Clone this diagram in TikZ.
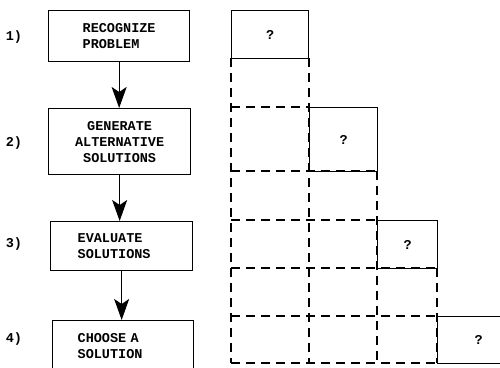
\documentclass[tikz,border=0pt]{standalone}
\usepackage{fontspec}
\setmainfont{Liberation Mono}
\usepackage{tikz}
\usetikzlibrary{positioning}
\usetikzlibrary{arrows.meta}

\tikzset{
  stepbox/.style={draw,line width=1.3pt,anchor=north west,align=left,inner ysep=0pt},
  askbox/.style={draw,line width=1.3pt,anchor=north west,inner sep=0pt},
  cell/.style={line width=1.1pt,dash pattern=on 9pt off 6pt},
  flow/.style={line width=1.3pt,-{Stealth[length=21pt,width=15pt,inset=5pt]}},
  numlabel/.style={inner sep=0pt}
}

\begin{document}
\begin{tikzpicture}[x=1pt,y=-1pt,font=\fontsize{13.5}{16}\selectfont\bfseries]
\useasboundingbox (0,0) rectangle (500,367);
\clip (0,0) rectangle (500,367);

% the four steps
\node[stepbox,inner xsep=34pt,text width=73pt,minimum height=51pt]               (recog)  at (48,10)  {RECOGNIZE\\PROBLEM};
\node[stepbox,inner xsep=18pt,text width=106pt,align=center,minimum height=66pt] (gener)  at (48,108) {GENERATE\\ALTERNATIVE\\SOLUTIONS};
\node[stepbox,inner xsep=27pt,text width=88pt,minimum height=49pt]               (evalu)  at (50,221) {EVALUATE\\SOLUTIONS};
\node[stepbox,inner xsep=25pt,text width=91pt,minimum height=50pt]               (choose) at (52,320) {CHOOSE A\\SOLUTION};

\node[numlabel] (n1) at (14,37)  {1)};
\node[numlabel] (n2) at (14,143) {2)};
\node[numlabel] (n3) at (14,244) {3)};
\node[numlabel] (n4) at (14,339) {4)};

\draw[flow] (recog.south) -- (recog.south |- gener.north);
\draw[flow] (gener.south) -- (gener.south |- evalu.north);
\draw[flow] (evalu.south) -- (evalu.south |- choose.north);

% staircase of cells
\foreach \x/\ya in {231/58,309/58,377/171,437/268}
  \draw[cell] (\x,\ya) -- (\x,363);
\foreach \y/\xb in {107/309,171/377,220/377,268/437,316/437,363/437}
  \draw[cell] (231,\y) -- (\xb,\y);

\node[askbox,minimum width=77pt,minimum height=48pt] (ask1) at (231,10)  {?};
\node[askbox,minimum width=68pt,minimum height=64pt] (ask2) at (309,107) {?};
\node[askbox,minimum width=60pt,minimum height=48pt] (ask3) at (377,220) {?};
\node[askbox,minimum width=82pt,minimum height=47pt] (ask4) at (437,316) {?};

\end{tikzpicture}
\end{document}
